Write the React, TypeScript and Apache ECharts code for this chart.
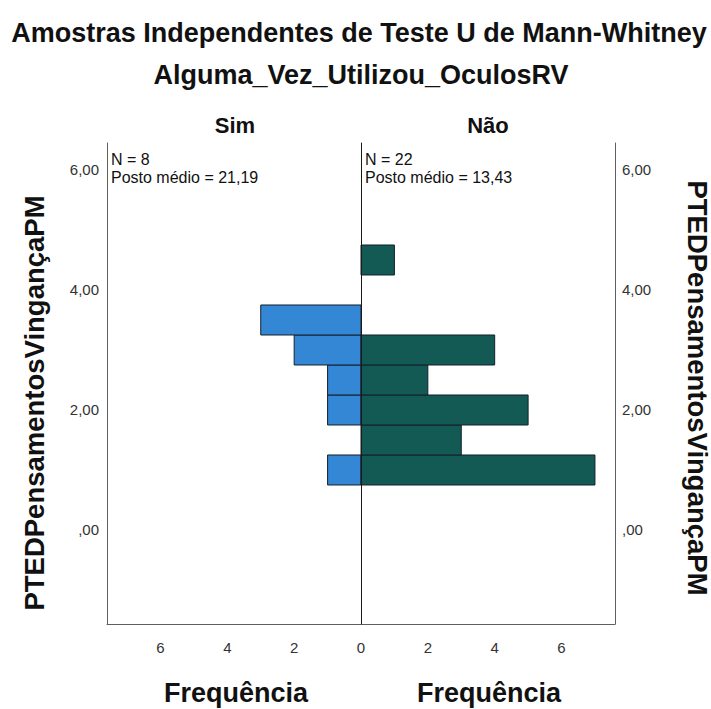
import React, { useEffect, useRef } from "react";
import * as echarts from "echarts";

// Histogram bins (centres of PTEDPensamentosVingançaPM, width 0.5)
const binCenters = [1.0, 1.5, 2.0, 2.5, 3.0, 3.5, 4.0, 4.5];
const simCounts = [1, 0, 1, 1, 2, 3, 0, 0];
const naoCounts = [7, 3, 5, 2, 4, 0, 0, 1];
const binWidth = 0.5;

const yTickValues = [0, 2, 4, 6];
const xTickLeft = [2, 4, 6];
const xTickRight = [0, 2, 4, 6];

const titleText = "Amostras Independentes de Teste U de Mann-Whitney";
const subtitleText = "Alguma_Vez_Utilizou_OculosRV";
const groupNames = ["Sim", "Não"];
const groupN = [8, 22];
const groupRank = ["21,19", "13,43"];
const yName = "PTEDPensamentosVingançaPM";
const xName = "Frequência";

const FONT = "'Liberation Sans', Arial, sans-serif";

function fmtY(v: number) {
  if (v === 0) return ",00";
  return v.toFixed(2).replace(".", ",");
}

function makeRender(fill: string) {
  return (params: any, api: any) => {
    const n = api.value(0);
    const c = api.value(1);
    if (!n) return null;
    const p1 = api.coord([0, c + binWidth / 2]);
    const p2 = api.coord([n, c - binWidth / 2]);
    return {
      type: "rect",
      shape: {
        x: Math.min(p1[0], p2[0]),
        y: Math.min(p1[1], p2[1]),
        width: Math.abs(p2[0] - p1[0]),
        height: Math.abs(p2[1] - p1[1]),
      },
      style: { fill, stroke: "#14202c", lineWidth: 1 },
    };
  };
}

export default function App() {
  const ref = useRef<HTMLDivElement>(null);
  useEffect(() => {
    if (!ref.current) return;
    const chart = echarts.init(ref.current, null, { renderer: "svg" });
    const yMin = -1.567;
    const yMax = 6.45;
    const xMax = 7.6;
    const frame = "#5f5f5f";
    const yAxisCommon = {
      type: "value",
      min: yMin,
      max: yMax,
      splitLine: { show: false },
      axisTick: { show: false },
    };
    const xAxisCommon = {
      type: "value",
      min: 0,
      max: xMax,
      position: "bottom",
      splitLine: { show: false },
      axisTick: { show: false },
      axisLine: { show: true, onZero: false, lineStyle: { color: frame, width: 1 } },
    };
    const option: any = {
      animation: false,
      backgroundColor: "#ffffff",
      grid: [
        { left: 107, top: 143, width: 254, height: 481 },
        { left: 361, top: 143, width: 254, height: 481 },
      ],
      xAxis: [
        {
          ...xAxisCommon,
          gridIndex: 0,
          inverse: true,
          axisLabel: {
            customValues: xTickLeft,
            margin: 16,
            fontSize: 15,
            color: "#333",
            fontFamily: FONT,
          },
        },
        {
          ...xAxisCommon,
          gridIndex: 1,
          axisLabel: {
            customValues: xTickRight,
            margin: 16,
            fontSize: 15,
            color: "#333",
            fontFamily: FONT,
          },
        },
      ],
      yAxis: [
        {
          ...yAxisCommon,
          gridIndex: 0,
          position: "left",
          axisLine: { show: true, onZero: false, lineStyle: { color: frame, width: 1 } },
          axisLabel: {
            customValues: yTickValues,
            formatter: fmtY,
            margin: 8,
            fontSize: 15,
            color: "#333",
            fontFamily: FONT,
          },
        },
        {
          ...yAxisCommon,
          gridIndex: 1,
          position: "right",
          axisLine: { show: true, onZero: false, lineStyle: { color: frame, width: 1 } },
          axisLabel: {
            customValues: yTickValues,
            formatter: fmtY,
            margin: 7,
            fontSize: 15,
            color: "#333",
            fontFamily: FONT,
          },
        },
        {
          ...yAxisCommon,
          gridIndex: 0,
          position: "right",
          axisLine: { show: true, onZero: false, lineStyle: { color: "#1a1a1a", width: 1 } },
          axisLabel: { show: false },
          z: 5,
        },
      ],
      series: [
        {
          type: "custom",
          name: groupNames[0],
          xAxisIndex: 0,
          yAxisIndex: 0,
          encode: { x: 0, y: 1 },
          data: binCenters.map((c, i) => [simCounts[i], c]),
          renderItem: makeRender("#3487d5"),
          z: 2,
        },
        {
          type: "custom",
          name: groupNames[1],
          xAxisIndex: 1,
          yAxisIndex: 1,
          encode: { x: 0, y: 1 },
          data: binCenters.map((c, i) => [naoCounts[i], c]),
          renderItem: makeRender("#135a55"),
          z: 2,
        },
      ],
      graphic: [
        {
          type: "text",
          x: 359,
          y: 33,
          style: {
            text: titleText,
            font: `bold 27px ${FONT}`,
            fill: "#111",
            textAlign: "center",
            textVerticalAlign: "middle",
          },
        },
        {
          type: "text",
          x: 361,
          y: 75,
          style: {
            text: subtitleText,
            font: `bold 27px ${FONT}`,
            fill: "#111",
            textAlign: "center",
            textVerticalAlign: "middle",
          },
        },
        {
          type: "text",
          x: 235,
          y: 125,
          style: {
            text: groupNames[0],
            font: `bold 22px 'Liberation Sans Narrow', ${FONT}`,
            fill: "#111",
            textAlign: "center",
            textVerticalAlign: "middle",
          },
        },
        {
          type: "text",
          x: 488,
          y: 125,
          style: {
            text: groupNames[1],
            font: `bold 22px 'Liberation Sans Narrow', ${FONT}`,
            fill: "#111",
            textAlign: "center",
            textVerticalAlign: "middle",
          },
        },
        {
          type: "text",
          x: 111,
          y: 150,
          style: {
            text: `N = ${groupN[0]}\nPosto médio = ${groupRank[0]}`,
            font: `16px ${FONT}`,
            lineHeight: 18,
            fill: "#111",
            textAlign: "left",
            textVerticalAlign: "top",
          },
        },
        {
          type: "text",
          x: 365,
          y: 150,
          style: {
            text: `N = ${groupN[1]}\nPosto médio = ${groupRank[1]}`,
            font: `16px ${FONT}`,
            lineHeight: 18,
            fill: "#111",
            textAlign: "left",
            textVerticalAlign: "top",
          },
        },
        {
          type: "text",
          x: 34,
          y: 403,
          rotation: Math.PI / 2,
          style: {
            text: yName,
            font: `bold 27.5px ${FONT}`,
            fill: "#111",
            textAlign: "center",
            textVerticalAlign: "middle",
          },
        },
        {
          type: "text",
          x: 697,
          y: 388,
          rotation: -Math.PI / 2,
          style: {
            text: yName,
            font: `bold 27.5px ${FONT}`,
            fill: "#111",
            textAlign: "center",
            textVerticalAlign: "middle",
          },
        },
        {
          type: "text",
          x: 236,
          y: 693,
          style: {
            text: xName,
            font: `bold 27px ${FONT}`,
            fill: "#111",
            textAlign: "center",
            textVerticalAlign: "middle",
          },
        },
        {
          type: "text",
          x: 489,
          y: 693,
          style: {
            text: xName,
            font: `bold 27px ${FONT}`,
            fill: "#111",
            textAlign: "center",
            textVerticalAlign: "middle",
          },
        },
      ],
    };
    chart.setOption(option);
    return () => chart.dispose();
  }, []);
  return (
    <div
      ref={ref}
      style={{ position: "fixed", left: 0, top: 0, width: 711, height: 709 }}
    />
  );
}
